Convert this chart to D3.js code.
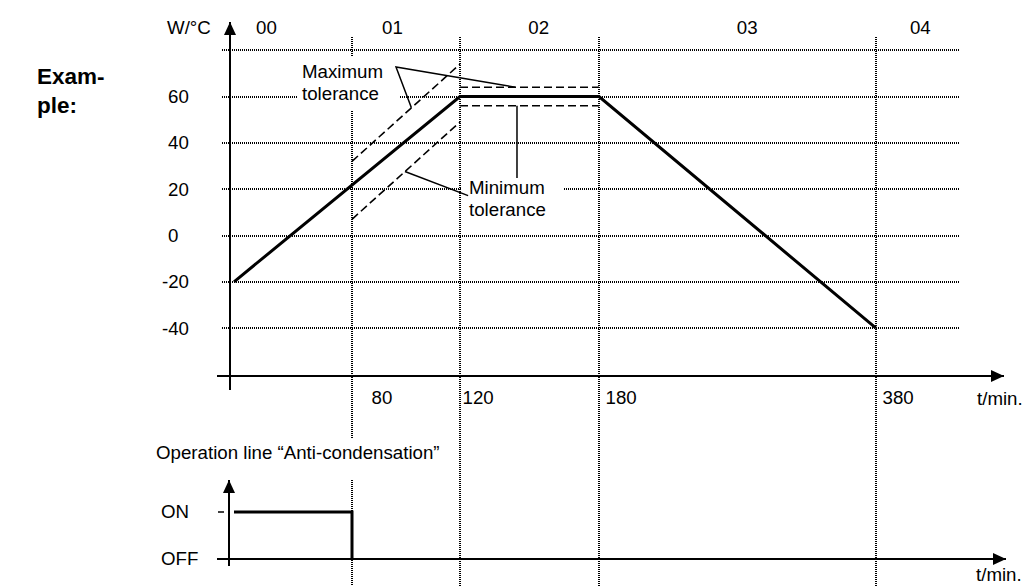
<!DOCTYPE html>
<html>
<head>
<meta charset="utf-8">
<script src="https://cdn.jsdelivr.net/npm/d3@7"></script>
<style>
  body { margin: 0; background: #fff; }
  svg { display: block; font-family: Arial, "Liberation Sans", sans-serif; }
</style>
</head>
<body>
<script>
// time breaks of the phases (minutes) and their labels
const tBreaks = [0, 80, 120, 180, 380];
const tTicks = [80, 120, 180, 380];
const phaseNames = ["00", "01", "02", "03", "04"];
const phaseAt = [22, 95, 154, 287, 412];

// W/°C axis
const yTicks = [60, 40, 20, 0, -20, -40];
const yGrid = [80, 60, 40, 20, 0, -20, -40];

// set point profile
const profileT = [0, 120, 180, 380];
const profileV = [-20, 60, 60, -40];

// tolerance band (dashed)
const maxRampT = [80, 120], maxRampV = [32, 74];
const minRampT = [80, 120], minRampV = [7, 49];
const flatT = [120, 180], maxFlatV = 64, minFlatV = 56;

// anti-condensation operation line
const stateT = [0, 80, 80];
const stateV = [1, 1, 0];
const stateNames = ["OFF", "ON"];

document.addEventListener("DOMContentLoaded", function () {
    const fs = 18.7;
    const svg = d3.select("body")
        .append("svg")
        .attr("width", 1023)
        .attr("height", 586);

    const x = d3.scaleLinear().domain(tBreaks).range([234, 352, 460, 599, 876]);
    const y = d3.scaleLinear().domain([0, 60]).range([235.5, 96.5]);
    const ys = d3.scaleLinear().domain([0, 1]).range([559, 512]);

    const dotted = sel => sel.attr("stroke", "#000").attr("stroke-width", 2)
        .attr("stroke-dasharray", "1,1").attr("shape-rendering", "crispEdges").attr("fill", "none");
    const line = d3.line().x(d => x(d[0])).y(d => y(d[1]));

    // horizontal grid
    svg.append("g").selectAll("line")
        .data(yGrid)
        .join("line")
        .attr("x1", 222).attr("x2", 960)
        .attr("y1", d => y(d)).attr("y2", d => y(d))
        .call(dotted);

    // vertical grid, the first two are cut by the operation-line title
    tTicks.forEach(function (t) {
        const parts = x(t) < 450 ? [[37, 438], [480, 586]] : [[37, 586]];
        parts.forEach(function (p) {
            svg.append("line")
                .attr("x1", x(t)).attr("x2", x(t))
                .attr("y1", p[0]).attr("y2", p[1])
                .call(dotted);
        });
    });

    // phase names
    svg.append("g").selectAll("text")
        .data(phaseNames)
        .join("text")
        .attr("x", (d, i) => x(phaseAt[i]))
        .attr("y", 34)
        .attr("text-anchor", "middle")
        .attr("font-size", fs)
        .text(d => d);

    // y tick labels
    const yAxis = svg.append("g")
        .attr("transform", "translate(168,0)")
        .call(d3.axisLeft(y).tickValues(yTicks).tickSize(0).tickFormat(d => d));
    yAxis.select(".domain").remove();
    yAxis.selectAll("text")
        .attr("text-anchor", "start")
        .attr("x", d => d < 0 ? -6 : 0)
        .attr("font-size", fs)
        .attr("font-family", "Arial, 'Liberation Sans', sans-serif")
        .attr("fill", "#000");

    // x tick labels
    const xAxis = svg.append("g")
        .attr("transform", "translate(0,376)")
        .call(d3.axisBottom(x).tickValues(tTicks).tickSize(0).tickFormat(d => d));
    xAxis.select(".domain").remove();
    xAxis.selectAll("text")
        .attr("text-anchor", "start")
        .attr("x", d => d === 80 ? 19 : (d === 120 ? 2 : 6))
        .attr("y", 28)
        .attr("dy", 0)
        .attr("font-size", fs)
        .attr("font-family", "Arial, 'Liberation Sans', sans-serif")
        .attr("fill", "#000");

    // axes with arrows
    function arrowLine(x1, y1, x2, y2) {
        svg.append("line")
            .attr("x1", x1).attr("y1", y1).attr("x2", x2).attr("y2", y2)
            .attr("stroke", "#000").attr("stroke-width", 2);
        const a = Math.atan2(y2 - y1, x2 - x1), L = 13, W = 6;
        const bx = x2 - L * Math.cos(a), by = y2 - L * Math.sin(a);
        const px = -Math.sin(a) * W, py = Math.cos(a) * W;
        svg.append("polygon")
            .attr("points", [[x2, y2], [bx + px, by + py], [bx - px, by - py]].map(p => p.join(",")).join(" "))
            .attr("fill", "#000");
    }
    const axisX = x(0) - 4;
    arrowLine(axisX, 390, axisX, 22);
    arrowLine(217, 376, 1004, 376);

    svg.append("text").attr("x", 167).attr("y", 34).attr("font-size", fs).text("W/°C");
    svg.append("text").attr("x", 977).attr("y", 405).attr("font-size", fs).text("t/min.");

    // label backgrounds
    svg.append("rect").attr("x", 297).attr("y", 57).attr("width", 103).attr("height", 53).attr("fill", "#fff");
    svg.append("rect").attr("x", 462).attr("y", 176).attr("width", 102).attr("height", 44).attr("fill", "#fff");

    // tolerance band
    [[maxRampT, maxRampV], [minRampT, minRampV]].forEach(function (r) {
        svg.append("path")
            .attr("d", line(r[0].map((t, i) => [t, r[1][i]])))
            .attr("fill", "none").attr("stroke", "#000")
            .attr("stroke-width", 1.6).attr("stroke-dasharray", "8,4");
    });
    [maxFlatV, minFlatV].forEach(function (v) {
        svg.append("path")
            .attr("d", line(flatT.map(t => [t, v])))
            .attr("fill", "none").attr("stroke", "#000")
            .attr("stroke-width", 1.6).attr("stroke-dasharray", "8,4");
    });

    // set point profile
    svg.append("path")
        .attr("d", line(profileT.map((t, i) => [t, profileV[i]])))
        .attr("fill", "none").attr("stroke", "#000")
        .attr("stroke-width", 3).attr("stroke-linejoin", "miter");

    // annotations
    const lead = function (pts) {
        svg.append("path").attr("d", line(pts))
            .attr("fill", "none").attr("stroke", "#000").attr("stroke-width", 1.5);
    };
    lead([[102, 55.1], [96.3, 72.7], [143.9, 64]]);
    lead([[99.6, 27.6], [123.5, 17.2]]);
    lead([[144.6, 56], [144.6, 24.8]]);

    const note = function (xp, yp, lines) {
        lines.forEach(function (s, i) {
            svg.append("text").attr("x", xp).attr("y", yp + i * 22).attr("font-size", fs).text(s);
        });
    };
    note(302, 78, ["Maximum", "tolerance"]);
    note(469, 194, ["Minimum", "tolerance"]);

    // Example label
    svg.append("text").attr("x", 37).attr("y", 84).attr("font-size", 22.5).attr("font-weight", "bold").text("Exam-");
    svg.append("text").attr("x", 37).attr("y", 113).attr("font-size", 22.5).attr("font-weight", "bold").text("ple:");

    // operation line chart
    svg.append("text").attr("x", 156).attr("y", 459).attr("font-size", fs)
        .text("Operation line \u201CAnti-condensation\u201D");

    arrowLine(axisX - 1, 566, axisX - 1, 480);
    arrowLine(217, ys(0), 1006, ys(0));
    svg.append("line")
        .attr("x1", 218).attr("x2", 224)
        .attr("y1", ys(1)).attr("y2", ys(1))
        .attr("stroke", "#000").attr("stroke-width", 1.5);

    svg.append("g").selectAll("text")
        .data(stateNames)
        .join("text")
        .attr("x", 161)
        .attr("y", (d, i) => ys(i) + 6)
        .attr("font-size", fs)
        .text(d => d);

    svg.append("path")
        .attr("d", d3.line().x(d => x(d[0])).y(d => ys(d[1]))(stateT.map((t, i) => [t, stateV[i]])))
        .attr("fill", "none").attr("stroke", "#000").attr("stroke-width", 3);

    svg.append("text").attr("x", 976).attr("y", 581).attr("font-size", fs).text("t/min.");
});
</script>
</body>
</html>
